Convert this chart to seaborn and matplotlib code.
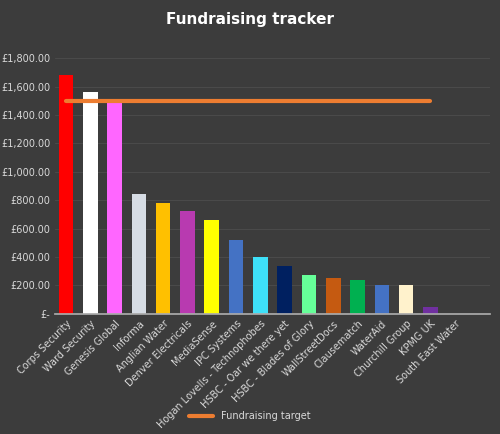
import matplotlib
matplotlib.use("Agg")
import matplotlib.pyplot as plt
import seaborn as sns
import numpy as np
import pandas as pd
from matplotlib.ticker import FuncFormatter

teams = ["Corps Security", "Ward Security", "Genesis Global", "Informa", "Anglian Water",
         "Denver Electricals", "MediaSense", "IPC Systems", "Hogan Lovells - Technophobes",
         "HSBC - Oar we there yet", "HSBC - Blades of Glory", "WallStreetDocs", "Clausematch",
         "WaterAid", "Churchill Group", "KPMG UK", "South East Water"]
raised = [1684, 1560, 1500, 842, 780, 725, 662, 520, 402, 338, 275, 255, 238, 205, 203, 50, 0]
target = [1500] * 16 + [np.nan]
colors = ["#ff0000", "#ffffff", "#ff66ff", "#d6dce4", "#ffc000", "#b83ab0", "#ffff00", "#4472c4",
          "#3ee0f8", "#002060", "#66ff99", "#c55a11", "#00b050", "#4472c4", "#fff2cc", "#7030a0", "#5b9bd5"]

sns.set_theme(style="dark")
bg = "#3c3c3c"
fig = plt.figure(figsize=(5.0, 4.34), dpi=100)
fig.patch.set_facecolor(bg)
ax = fig.add_axes([0.11, 0.277, 0.87, 0.589])
ax.set_facecolor(bg)
df = pd.DataFrame({"team": teams, "raised": raised})
sns.barplot(data=df, x="team", y="raised", hue="team", palette=colors, legend=False,
            width=0.6, ax=ax, saturation=1, linewidth=0)
ax.plot(np.arange(len(teams)), target, color="#ed7d31", lw=3, label="Fundraising target")
ax.set_ylim(0, 1800)
ax.set_yticks(np.arange(0, 1801, 200))
ax.yaxis.set_major_formatter(FuncFormatter(lambda v, p: "£-" if v == 0 else f"£{v:,.2f}"))
ax.grid(axis="y", color="#4a4a4a", lw=0.8)
ax.set_axisbelow(True)
ax.set_xlim(-0.45, 17.45)
for s in ["top", "right", "left"]:
    ax.spines[s].set_visible(False)
ax.spines["bottom"].set_color("#aaaaaa")
ax.set_xlabel(""); ax.set_ylabel("")
ax.tick_params(axis="y", colors="#d9d9d9", labelsize=7, length=0)
ax.tick_params(axis="x", colors="#d9d9d9", labelsize=7, length=0)
plt.setp(ax.get_xticklabels(), rotation=45, ha="right", rotation_mode="anchor", color="#d9d9d9")
fig.text(0.5, 0.955, "Fundraising tracker", ha="center", va="center", color="white", fontsize=11, fontweight="bold")
fig.legend(loc="lower center", bbox_to_anchor=(0.5, 0.01), frameon=False, fontsize=7, labelcolor="#d9d9d9", handlelength=2.5)
fig.savefig("out.png", dpi=100, facecolor=bg)
